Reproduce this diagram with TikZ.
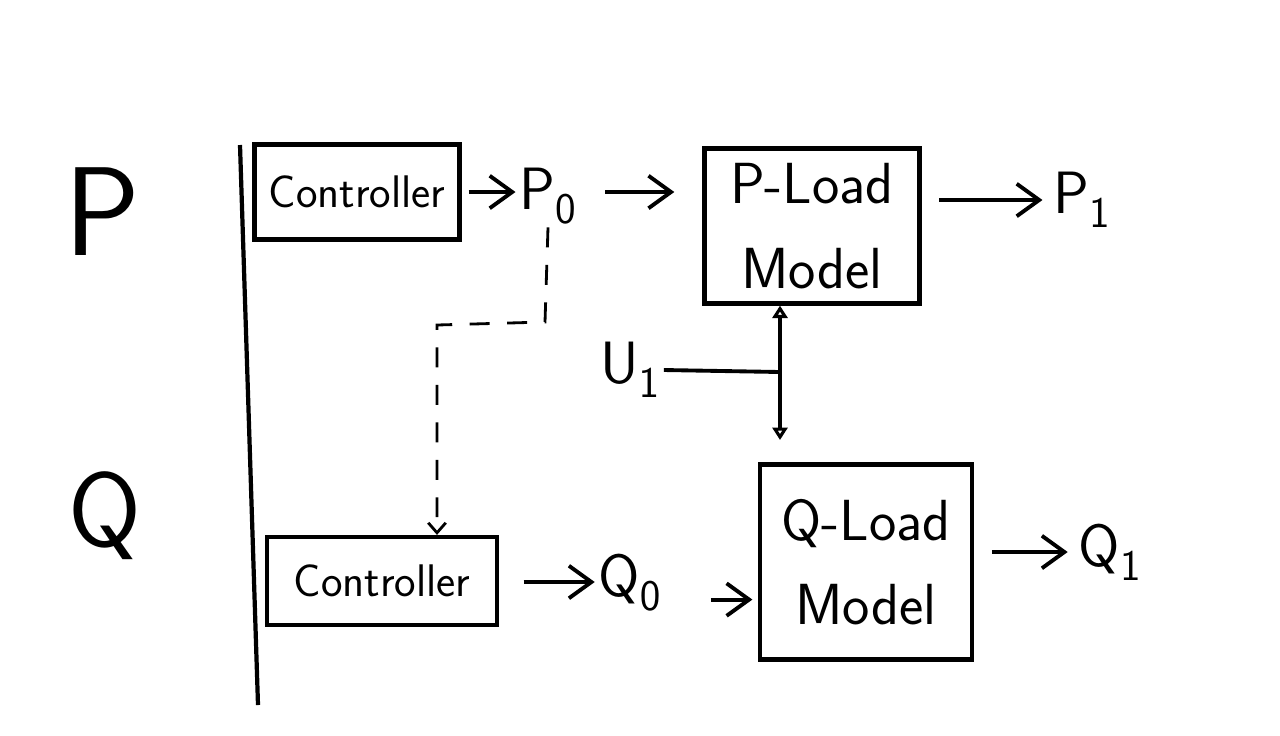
\documentclass[tikz,border=0pt]{standalone}
\usetikzlibrary{arrows.meta, positioning}

\begin{document}
\begin{tikzpicture}[
    x=0.02cm, y=-0.02cm,
    box/.style={rectangle, draw, line width=2.4pt, align=center, font=\sffamily\fontsize{26}{30}\selectfont},
    loadbox/.style={box, font=\sffamily\fontsize{33}{48}\selectfont},
    var/.style={font=\sffamily\fontsize{34}{36}\selectfont, inner sep=2pt},
    big/.style={font=\sffamily\fontsize{72}{74}\selectfont},
    arrow/.style={-{Straight Barb[length=4.5mm, width=6.5mm]}, line width=2.2pt},
    dasharrow/.style={-{Straight Barb[length=2mm, width=3.5mm]}, line width=1.6pt, dashed, dash pattern=on 4mm off 3.5mm},
    link/.style={{Triangle[open, length=2.5mm, width=3mm]}-{Triangle[open, length=2.5mm, width=3mm]}, line width=2.2pt}
]
\useasboundingbox (0,0) rectangle (1280,735);

% Row labels
\node[big] (plbl) at (102,212) {P};
\node[big, font=\sffamily\fontsize{60}{62}\selectfont] (qlbl) at (105,516) {Q};

% Separator
\coordinate (septop) at (240,145);
\coordinate (sepbot) at (258,705);
\draw[line width=2.4pt] (septop) -- (sepbot);

% P row
\node[box, minimum width=4.1cm, minimum height=1.9cm] (ctrlP) at (357,192) {Controller};
\node[var] (p0) at (548,196) {P$_{\mathsf{0}}$};
\node[loadbox, minimum width=4.3cm, minimum height=3.1cm] (loadP) at (812,226) {P-Load\\Model};
\node[var] (p1) at (1082,200) {P$_{\mathsf{1}}$};

% Q row
\node[box, minimum width=4.6cm, minimum height=1.76cm] (ctrlQ) at (382,581) {Controller};
\node[var] (q0) at (630,582) {Q$_{\mathsf{0}}$};
\node[loadbox, minimum width=4.25cm, minimum height=3.9cm] (loadQ) at (866,562) {Q-Load\\Model};
\node[var] (q1) at (1110,552) {Q$_{\mathsf{1}}$};

% Voltage input
\node[var] (u1) at (630,370) {U$_{\mathsf{1}}$};
\coordinate (junc) at (780,372);
\coordinate (qin) at (780,440);
\coordinate (dbend) at (545,322);
\coordinate (dcorner) at (437,325);

% Arrows
\draw[arrow, shorten <=4pt] (ctrlP.east) -- (ctrlP.east -| p0.west);
\draw[arrow, shorten <=14pt, shorten >=16pt] (p0.east |- ctrlP.east) -- (ctrlP.east -| loadP.west);
\draw[arrow, shorten <=10pt, shorten >=4pt] (loadP.east |- p1) -- (p1.west);
\draw[arrow, shorten <=14pt] (ctrlQ.east |- q0) -- (q0.west);
\draw[arrow, shorten <=26pt, shorten >=3pt] ([yshift=-10pt]q0.east) -- ([yshift=-10pt]q0.east -| loadQ.west);
\draw[arrow, shorten <=10pt, shorten >=4pt] (loadQ.east |- q1) -- (q1.west);

% Coupling between P and Q
\draw[dasharrow] (p0.south) -- (dbend) -- (dcorner) -- (dcorner |- ctrlQ.north);
\draw[line width=2.2pt] (u1.east) -- (junc);
\draw[link] (junc |- loadP.south) -- (qin);

\end{tikzpicture}
\end{document}
